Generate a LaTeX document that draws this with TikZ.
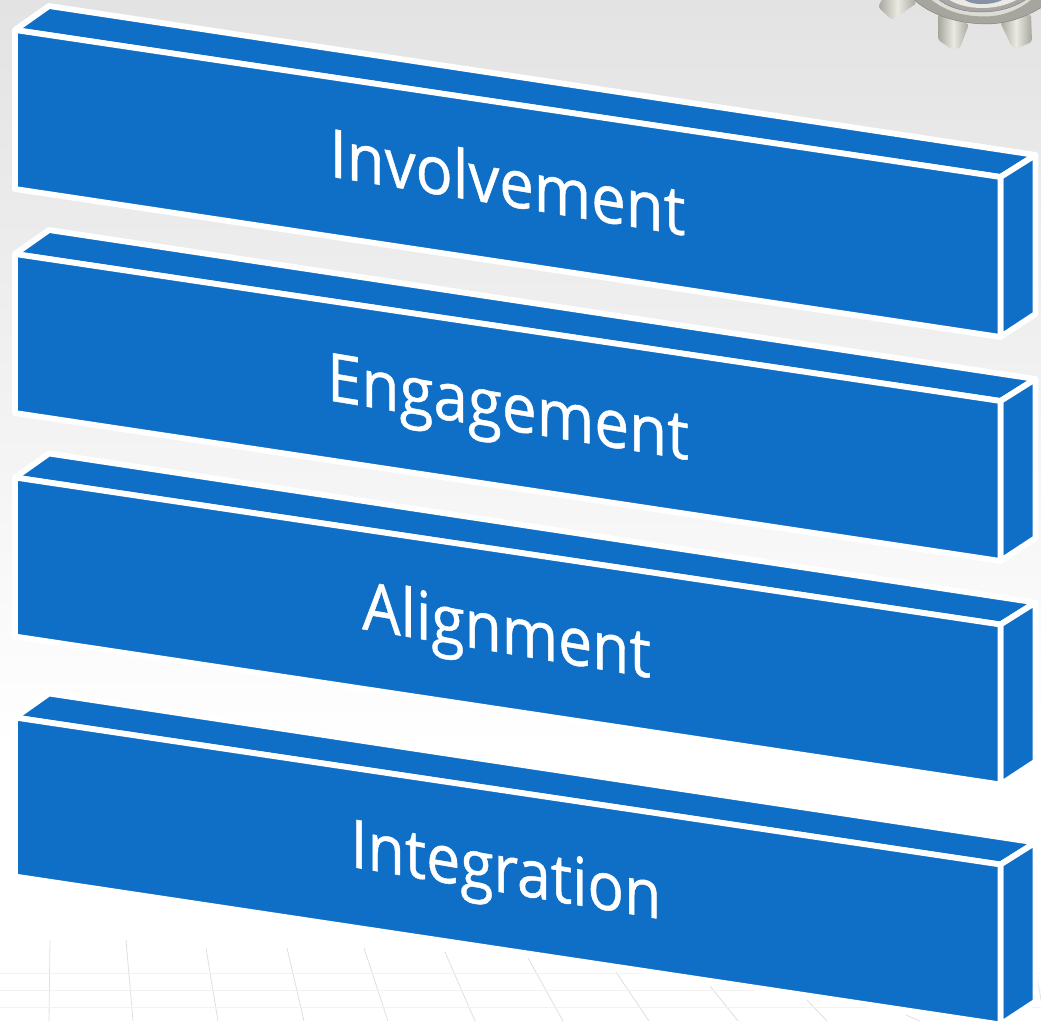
\documentclass[tikz,border=0pt]{standalone}
\usepackage{fontspec}
\setmainfont[FakeBold=0.7]{Open Sans}
\definecolor{barblue}{HTML}{0F6FC6}
\definecolor{gridc}{HTML}{E0E0E0}
\definecolor{metal}{HTML}{A6A69E}
\definecolor{metallight}{HTML}{EAEAE3}
\definecolor{metaldark}{HTML}{85857E}
\definecolor{hubblue}{HTML}{8592A8}
\tikzset{
  x=1pt,y=-1pt,
  face/.style={fill=barblue,draw=white,line width=5.8pt,line join=round},
  barlabel/.style={text=white,font=\fontsize{67}{67}\selectfont,inner sep=0pt,anchor=base},
  tooth/.style={left color=metal,right color=metal,middle color=metallight,rounded corners=3pt},
  ringa/.style={fill=metal,draw=metaldark,line width=.5pt},
  ringb/.style={fill=metallight!80!metal,draw=metal,line width=1pt},
  gridline/.style={draw=gridc,line width=.8pt},
  floorline/.style={draw=black!5,line width=.9pt}
}
% #1 = name, #2 = vertical offset from the top bar
\newcommand{\mybar}[2]{%
  \coordinate (#1a) at (15,30+#2);
  \coordinate (#1b) at (1000.5,177+#2);
  \coordinate (#1c) at (1000.5,337+#2);
  \coordinate (#1d) at (15,189+#2);
  \coordinate (#1e) at (49,6+#2);
  \coordinate (#1f) at (1035.5,155+#2);
  \coordinate (#1g) at (1035.5,314+#2);
  \path[face] (#1e) -- (#1f) -- (#1b) -- (#1a) -- cycle;
  \path[face] (#1f) -- (#1g) -- (#1c) -- (#1b) -- cycle;
  \path[face] (#1a) -- (#1b) -- (#1c) -- (#1d) -- cycle;
}
\begin{document}
\begin{tikzpicture}
\useasboundingbox (0,0) rectangle (1041,1021);
\fill[white] (0,0) rectangle (1041,1021);
\shade[top color=black!11,bottom color=white] (0,0) rectangle (1041,750);
% floor grid
\foreach \xa/\ya/\xb/\yb in {50/940/49/1021,126/940/133/1021,206/948/218/1021,287/948/304/1021,364/948/388/1021,445/952/475/1021,528/958/563/1021,616/972/649/1021,710/986/738/1021,807/1000/827/1021,906/1015/920/1021,1036/970/1041/1000}{
  \draw[gridline] (\xa,\ya) -- (\xb,\yb);}
\draw[floorline] (0,973) -- (1041,973);
\draw[floorline] (0,990) -- (1041,990);
\draw[floorline] (0,1007) -- (1041,1007);
% gear
\begin{scope}
\clip (0,0) rectangle (1041,1021);
\path[tooth] (885,-6) -- (878,7) -- (892,20) -- (917,3) -- (905,-6) -- cycle;
\path[tooth] (938,14) -- (938,40) -- (953,50) -- (960,48) -- (969,24) -- cycle;
\path[tooth] (1000,22) -- (1012,47) -- (1018,48) -- (1032,42) -- (1031,14) -- cycle;
\path[ringa] (908,-6) .. controls (925,12) and (950,23) .. (985,24) .. controls (1010,24) and (1030,15) .. (1045,5) -- (1045,-6) -- cycle;
\path[ringb] (924,-6) .. controls (940,10) and (960,17) .. (985,17) .. controls (1005,17) and (1025,8) .. (1038,-6) -- cycle;
\path[ringa,fill=black!35] (933,-6) .. controls (945,8) and (965,12) .. (982,12) .. controls (1000,12) and (1020,6) .. (1033,-6) -- cycle;
\path[fill=metallight,draw=none] (942,-6) .. controls (952,5) and (970,8) .. (982,8) .. controls (998,8) and (1015,3) .. (1025,-6) -- cycle;
\path[fill=hubblue,draw=none] (958,-6) .. controls (965,3) and (975,4) .. (982,4) .. controls (992,4) and (1003,2) .. (1010,-6) -- cycle;
\end{scope}
% bars
\mybar{p}{0}
\mybar{q}{224}
\mybar{r}{447.5}
\mybar{s}{687.5}
% labels
\node[barlabel,cm={0.92,-0.153,0,1,(0,0)}] (lp) at (507.5,206) {Involvement};
\node[barlabel,cm={0.925,-0.153,0,1,(0,0)}] (lq) at (508,430) {Engagement};
\node[barlabel,cm={0.905,-0.153,0,1,(0,0)}] (lr) at (506.5,653.5) {Alignment};
\node[barlabel,cm={0.905,-0.153,0,1,(0,0)}] (ls) at (506,893) {Integration};
\end{tikzpicture}
\end{document}
